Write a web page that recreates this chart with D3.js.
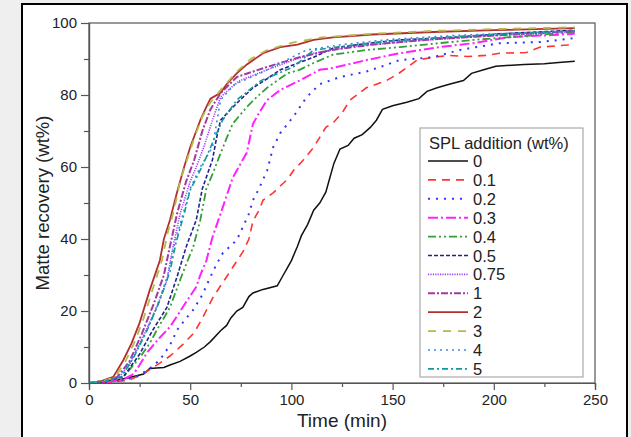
<!DOCTYPE html>
<html><head><meta charset="utf-8">
<script src="https://cdn.jsdelivr.net/npm/d3@7"></script>
<style>
html,body{margin:0;padding:0;background:#efefef;}
svg{display:block;font-family:"Liberation Sans",Arial,sans-serif;}
</style></head>
<body>
<svg id="chart" width="631" height="437"></svg>
<script>
// ---- data (time min, matte recovery wt%) ----
const seriesNames = ["0","0.1","0.2","0.3","0.4","0.5","0.75","1","2","3","4","5"];
const s0 = [[0,0],[10,0.3],[20,1.5],[27,2.5],[30,4],[37,4.3],[40,5],[45,6],[50,7.5],[53,8.5],[57,10],[60,11.5],[65,14.5],[68,16],[70,18],[73,20],[76,21],[79,24],[81,25],[86,26],[93,27],[96,30],[98,32],[100,34],[103,38],[105,41],[108,44],[111,48],[114,50],[117,53],[119,57],[121,61],[124,65],[128,66],[131,68],[135,69],[139,71],[142,73],[145,76],[150,77],[157,78],[163,79],[167,81],[172,82],[178,83],[185,84],[189,86],[195,87],[201,88],[215,88.5],[225,88.7],[232,89],[240,89.4]];
const s01 = [[0,0],[10,0.2],[20,0.8],[28,3],[35,5.5],[40,7.5],[46,10.5],[52,14],[56,18],[61,23.5],[65,27],[68,29.5],[72,33],[76,36.4],[79,40],[81,45],[84,48],[86,50.8],[91,52.8],[95,55],[98,56.5],[101,59],[106,62],[111,65.5],[117,71],[121,72.5],[125,75],[129,78.6],[137,82],[147,84],[153,86],[158,88],[162,89.7],[170,90.5],[178,91],[187,90.7],[196,91],[203,91.6],[216,91.8],[223,93.3],[232,93.7],[240,94]];
const s02 = [[0,0],[10,0.3],[18,1],[23.5,1.7],[30,4],[35,6.4],[40,10.5],[43.5,14.7],[48,18],[51.5,20.3],[56,24.5],[60,29.5],[63,33],[66,36],[73,39.7],[76,43.3],[79,47],[81,50.8],[84,54],[88,59],[91,65.5],[94.5,69.4],[101,74],[107.5,79.4],[114,83],[124,85],[137,86.5],[145,88],[153.5,89.7],[170,90.5],[183,92.5],[203,94.4],[223,94.7],[240,95.8]];
const s03 = [[0,0],[10,0.4],[17,1],[22,2.5],[25,5],[28.5,8.3],[34,12],[40,15.6],[44,19],[48,22.5],[53,26.7],[55,30],[58,34],[61,40.5],[65,47],[68,52],[71,57],[75,61],[78,64],[81,72],[84,75],[88,78.6],[94.5,81.4],[104,84],[114,87],[120.5,87.5],[137,89.7],[153.5,91.6],[173,93.3],[190,94.4],[206.5,96],[223,96.5],[240,97]];
const s04 = [[0,0],[8,0.5],[17,1.7],[25,7],[30,11],[33.5,14.7],[40,21],[45,28.6],[48,33],[51.5,37.8],[55,45.3],[58,54],[61,58],[65,63.8],[68,68],[71,72],[78,76.7],[83,79.5],[88,82],[98,86],[104,87],[111,88.9],[120.5,91.2],[137,92.5],[153.5,93.3],[173,94.4],[190,95.3],[206.5,96],[240,97.5]];
const s05 = [[0,0],[8,0.5],[17,1.7],[25,8],[31.5,14.7],[38.5,21],[43.5,29.5],[48,37.8],[53,45.3],[56,54],[61,62],[63,68],[65,73],[70,76],[74.6,78.6],[81,82],[88,84.5],[94.5,87],[111,90.5],[120.5,93],[137,94.3],[153.5,95.3],[180,96],[203,97],[240,98]];
const s075 = [[0,0],[7,0.5],[15,1.7],[20,5],[26.7,12.8],[33.5,21],[38.5,28.6],[41.5,37.8],[45,47],[50,56],[53,60],[57,66],[61,73],[65,79.4],[70,82],[74.6,84],[88,87],[100,89.5],[111,91.6],[130,93.5],[160,95],[200,96.5],[240,97.5]];
const s1 = [[0,0],[7,0.5],[14,1.7],[20,6],[26,13.5],[32,22],[37,30],[40,38],[43.5,47],[48,56],[52,62],[56,70],[60,76],[65,80.5],[73,85],[88,87.8],[104,90.5],[120,92.5],[140,94],[170,95.5],[200,96.5],[240,97.8]];
const s2 = [[0,0],[6,0.5],[12,1.7],[17,6.4],[21,11],[25,16.7],[30,25.8],[35,34],[37,40],[40,45.3],[43.5,53],[47,60],[50,65.5],[53,70],[55,73],[58,76.7],[60,79],[65,80.6],[68,83],[73,86],[78,88.5],[86,91.6],[94.5,93.3],[103,94],[111,95.3],[120.5,96],[140,96.8],[170,97.5],[200,98],[240,98.6]];
const s3 = [[0,0],[7,0.5],[13,1.7],[18,6],[23,12],[27,18],[32,27],[36,34],[39,42],[42,48],[45,56],[49,63],[52,68],[56,74],[60,78],[66,82],[73,86.5],[80,90],[88,92.5],[100,94.5],[115,96],[140,97],[170,97.8],[200,98.3],[240,98.8]];
const s4 = [[0,0],[7,0.5],[15,1.7],[21,6.5],[28,14],[34,22],[39,30],[42,38],[46,46],[50,54],[55,60],[61,65.5],[65,78.6],[72,83],[84.5,86],[95,89],[107.5,92.5],[125,94],[150,95.5],[180,96.5],[210,97.2],[240,97.8]];
const s5 = [[0,0],[8,0.5],[16,1.7],[22,7],[29,15],[35,23],[40,31],[43,39],[47,47],[50,53.6],[54,58],[58,62.8],[62,68],[66,73],[73,78.6],[85,84],[101,87.8],[111,92.5],[125,93.5],[150,95],[180,96.2],[210,97],[240,97.8]];
const seriesData = [s0,s01,s02,s03,s04,s05,s075,s1,s2,s3,s4,s5];
const xTicks = [0,50,100,150,200,250];
const yTicks = [0,20,40,60,80,100];

// ---- styles ----
const colors = ["#111111","#ff3333","#3333ff","#ff22ff","#33a033","#22228f","#a040ff","#a03aa0","#b03030","#b8b848","#3a8ce0","#109a9a"];
const dashes = ["none","8,6","2,6","10,3,2,3","8,3,2,3,2,3","4,2","1.2,1.2","7,2,2,2","none","8,7","2,4","6,3,2,3"];
const widths = [1.5,1.6,2,2,1.8,1.6,1.6,2,1.8,1.8,1.6,1.6];

const svg = d3.select("#chart");
svg.append("rect").attr("x",22).attr("y",4).attr("width",605).attr("height",445)
  .attr("fill","#fff").attr("stroke","#000").attr("stroke-width",2);

const L=89,R=595,T=23,B=383;
const x = d3.scaleLinear().domain([0,250]).range([L,R]);
const y = d3.scaleLinear().domain([0,100]).range([B,T]);

// frame
svg.append("rect").attr("x",L).attr("y",T).attr("width",R-L).attr("height",B-T)
  .attr("fill","none").attr("stroke","#555").attr("stroke-width",1.2);

const clipId="clip";
svg.append("clipPath").attr("id",clipId).append("rect").attr("x",L).attr("y",T-3).attr("width",R-L).attr("height",B-T+3);

const line = d3.line().x(d=>x(d[0])).y(d=>y(d[1]));
const g = svg.append("g").attr("clip-path","url(#clip)");
seriesData.forEach((s,i)=>{
  g.append("path").datum(s).attr("d",line).attr("fill","none")
   .attr("stroke",colors[i]).attr("stroke-width",widths[i])
   .attr("stroke-dasharray",dashes[i]==="none"?null:dashes[i]);
});

// axes
const xAxis = d3.axisBottom(x).tickValues(xTicks).tickSize(7).tickPadding(4);
const xMinor = d3.axisBottom(x).tickValues(d3.range(25,250,50)).tickSize(4).tickFormat("");
const yAxis = d3.axisLeft(y).tickValues(yTicks).tickSize(8).tickPadding(4);
const yMinor = d3.axisLeft(y).tickValues(d3.range(10,100,20)).tickSize(5).tickFormat("");
function style(sel){
  sel.select(".domain").attr("stroke","#555").attr("stroke-width",1.2);
  sel.selectAll(".tick line").attr("stroke","#555").attr("stroke-width",1.2);
  sel.selectAll(".tick text").attr("fill","#222").style("font-size","15px").style("font-family","'Liberation Sans',Arial,sans-serif");
}
svg.append("g").attr("transform",`translate(0,${B})`).call(xAxis).call(style);
svg.append("g").attr("transform",`translate(0,${B})`).call(xMinor).call(style);
svg.append("g").attr("transform",`translate(${L},0)`).call(yAxis).call(style);
svg.append("g").attr("transform",`translate(${L},0)`).call(yMinor).call(style);

svg.append("text").attr("x",(L+R)/2).attr("y",427).attr("text-anchor","middle")
  .attr("fill","#222").style("font-size","19px").text("Time (min)");
svg.append("text").attr("transform",`translate(49,${(T+B)/2}) rotate(-90)`).attr("text-anchor","middle")
  .attr("fill","#222").style("font-size","18.5px").text("Matte recovery (wt%)");

// legend
const lg = svg.append("g");
lg.append("rect").attr("x",420).attr("y",128).attr("width",163).attr("height",249)
  .attr("fill","#fff").attr("stroke","#aaa").attr("stroke-width",1.2);
lg.append("text").attr("x",429).attr("y",149).attr("fill","#222").style("font-size","16.5px").text("SPL addition (wt%)");
seriesNames.forEach((n,i)=>{
  const yy = 161 + i*18.9;
  lg.append("line").attr("x1",428).attr("x2",468).attr("y1",yy).attr("y2",yy)
    .attr("stroke",colors[i]).attr("stroke-width",widths[i])
    .attr("stroke-dasharray",dashes[i]==="none"?null:dashes[i]);
  lg.append("text").attr("x",473).attr("y",yy+6).attr("fill","#222").style("font-size","16.5px").text(n);
});
</script>
</body></html>
